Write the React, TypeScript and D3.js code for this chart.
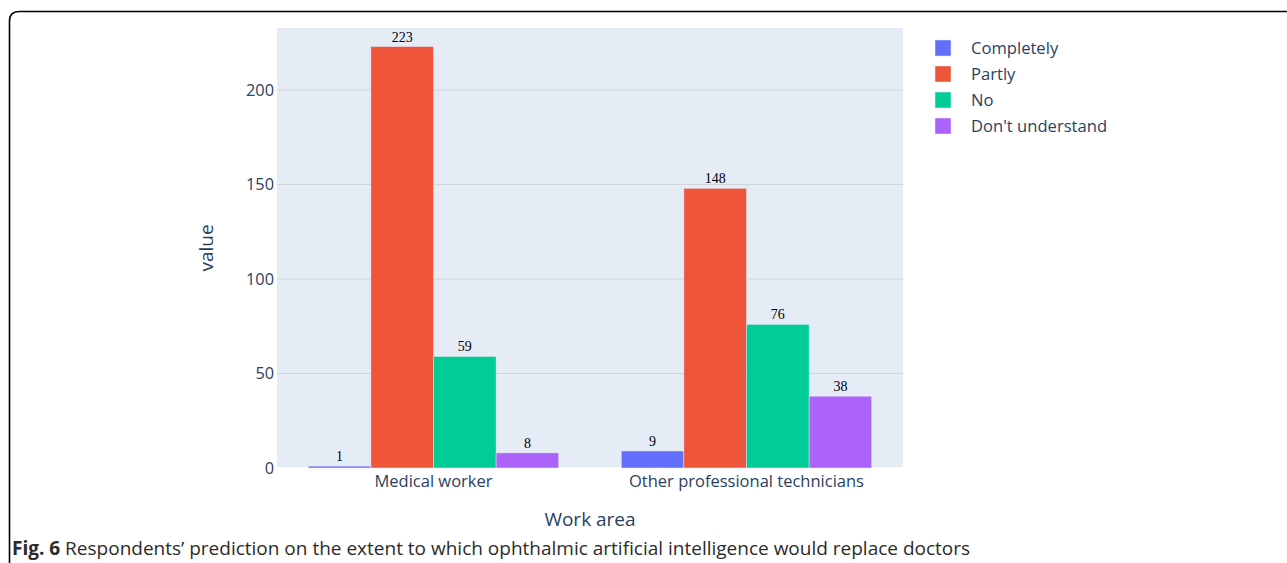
import React from "react";
import * as d3 from "d3";

const categories = ["Medical worker", "Other professional technicians"];
const seriesNames = ["Completely", "Partly", "No", "Don't understand"];
const completely = [1, 9];
const partly = [223, 148];
const no = [59, 76];
const dontUnderstand = [8, 38];
const yTicks = [0, 50, 100, 150, 200];
const colors = ["#636EFA", "#EF553B", "#00CC96", "#AB63FA"];

const W = 1287;
const H = 563;
const plot = { left: 277, right: 903, top: 28, bottom: 468 };
const fontSans = "'Open Sans', 'Noto Sans', sans-serif";
const tickColor = "#2a3f5f";

export default function App() {
  const values = [completely, partly, no, dontUnderstand];
  const x0 = d3
    .scaleBand<string>()
    .domain(categories)
    .range([plot.left, plot.right])
    .paddingInner(0.2)
    .paddingOuter(0.1);
  const x1 = d3
    .scaleBand<string>()
    .domain(seriesNames)
    .range([0, x0.bandwidth()]);
  const y = d3.scaleLinear().domain([0, 232.8]).range([plot.bottom, plot.top]);

  return (
    <svg
      width={W}
      height={H}
      style={{ position: "absolute", left: 0, top: 0, background: "#fff" }}
    >
      <path
        d={`M ${W} 11.5 L 19 11.5 Q 9.5 11.5 9.5 21 L 9.5 ${H}`}
        fill="none"
        stroke="#000"
        strokeWidth={1.6}
      />
      <rect
        x={plot.left}
        y={plot.top}
        width={plot.right - plot.left}
        height={plot.bottom - plot.top}
        fill="#E5ECF6"
      />
      {yTicks.map((t) => (
        <g key={t}>
          {t !== 0 && (
            <line
              x1={plot.left}
              x2={plot.right}
              y1={y(t)}
              y2={y(t)}
              stroke="#cfd4da"
              strokeWidth={1}
            />
          )}
          <text
            x={plot.left - 3}
            y={y(t)}
            dy="0.36em"
            textAnchor="end"
            fontFamily={fontSans}
            fontSize={16.3}
            fill={tickColor}
          >
            {t}
          </text>
        </g>
      ))}
      <line
        x1={plot.left}
        x2={plot.right}
        y1={y(0)}
        y2={y(0)}
        stroke="#ffffff"
        strokeWidth={2}
      />
      {categories.map((c, ci) => (
        <g key={c}>
          {seriesNames.map((s, si) => {
            const v = values[si][ci];
            const bx = (x0(c) as number) + (x1(s) as number);
            const bw = x1.bandwidth();
            return (
              <g key={s}>
                <rect
                  x={bx}
                  y={y(v)}
                  width={bw}
                  height={y(0) - y(v)}
                  fill={colors[si]}
                  stroke="#E5ECF6"
                  strokeWidth={0.5}
                />
                <text
                  x={bx + bw / 2}
                  y={y(v) - 5}
                  textAnchor="middle"
                  fontFamily="'Liberation Serif', 'Times New Roman', serif"
                  fontSize={14}
                  fill="#000"
                >
                  {v}
                </text>
              </g>
            );
          })}
          <text
            x={(x0(c) as number) + x0.bandwidth() / 2}
            y={487}
            textAnchor="middle"
            fontFamily={fontSans}
            fontSize={16.5}
            fill={tickColor}
          >
            {c}
          </text>
        </g>
      ))}
      <text
        x={590}
        y={526}
        textAnchor="middle"
        fontFamily={fontSans}
        fontSize={19}
        fill={tickColor}
      >
        Work area
      </text>
      <text
        transform={`translate(213, ${(plot.top + plot.bottom) / 2}) rotate(-90)`}
        textAnchor="middle"
        fontFamily={fontSans}
        fontSize={19}
        fill={tickColor}
      >
        value
      </text>
      {seriesNames.map((s, i) => (
        <g key={s} transform={`translate(935, ${40 + i * 26})`}>
          <rect x={0} y={0} width={16} height={16} fill={colors[i]} stroke="#E5ECF6" strokeWidth={0.5} />
          <text
            x={36}
            y={8}
            dy="0.36em"
            fontFamily={fontSans}
            fontSize={16.6}
            fill={tickColor}
          >
            {s}
          </text>
        </g>
      ))}
      <text x={12} y={555} fontFamily={fontSans} fontSize={19} fill="#2b2b2b">
        <tspan fontWeight="bold">Fig. 6</tspan>
        <tspan> Respondents’ prediction on the extent to which ophthalmic artificial intelligence would replace doctors</tspan>
      </text>
    </svg>
  );
}
